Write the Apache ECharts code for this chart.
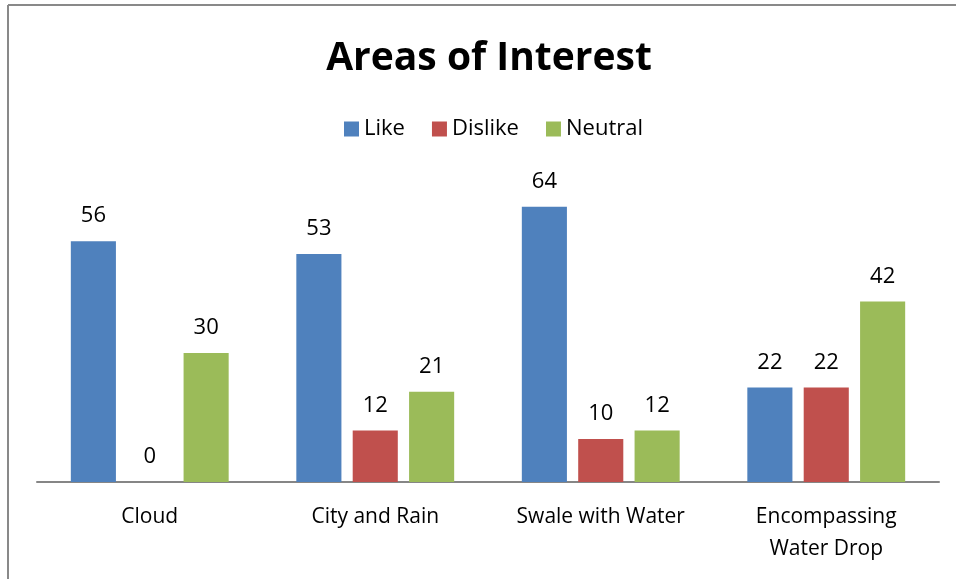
<!DOCTYPE html>
<html><head><meta charset="utf-8">
<script src="https://cdn.jsdelivr.net/npm/echarts@6/dist/echarts.min.js"></script>
<style>html,body{margin:0;padding:0;background:#fff}#c{width:956px;height:579px}</style>
</head><body><div id="c"></div>
<script>
const categories = ['Cloud', 'City and Rain', 'Swale with Water', 'Encompassing\nWater Drop'];
const likeValues = [56, 53, 64, 22];
const dislikeValues = [0, 12, 10, 22];
const neutralValues = [30, 21, 12, 42];
const seriesNames = ['Like', 'Dislike', 'Neutral'];
const colors = ['#4F81BD', '#C0504D', '#9BBB59'];
const FONT = 'Open Sans';

const chart = echarts.init(document.getElementById('c'));
const lbl = {show: true, position: 'top', distance: 14, color: '#000', fontSize: 22, fontFamily: FONT};
chart.setOption({
  animation: false,
  title: {text: 'Areas of Interest', left: 484, textAlign: 'center', top: 34,
    textStyle: {fontSize: 39, fontWeight: 'bold', color: '#000', fontFamily: FONT}},
  legend: {top: 113, left: 339, itemWidth: 15, itemHeight: 15, itemGap: 27,
    icon: 'rect', textStyle: {fontSize: 22, color: '#000', fontFamily: FONT}},
  grid: {left: 37, right: 17, top: 181, bottom: 97},
  graphic: [
    {type: 'line', shape: {x1: 8, y1: 5, x2: 956, y2: 5}, style: {stroke: '#898989', lineWidth: 2}},
    {type: 'line', shape: {x1: 8, y1: 5, x2: 8, y2: 579}, style: {stroke: '#898989', lineWidth: 2}}
  ],
  xAxis: {type: 'category', data: categories,
    axisLine: {lineStyle: {color: '#868686', width: 2}}, axisTick: {show: false},
    axisLabel: {interval: 0, fontSize: 21, color: '#000', fontFamily: FONT, margin: 19, lineHeight: 32}},
  yAxis: {type: 'value', min: 0, max: 70, show: false, splitLine: {show: false}},
  series: [
    {name: seriesNames[0], type: 'bar', data: likeValues, itemStyle: {color: colors[0]}, label: lbl, barGap: '25%', barCategoryGap: '30%'},
    {name: seriesNames[1], type: 'bar', data: dislikeValues, itemStyle: {color: colors[1]}, label: lbl},
    {name: seriesNames[2], type: 'bar', data: neutralValues, itemStyle: {color: colors[2]}, label: lbl}
  ]
});
</script></body></html>
